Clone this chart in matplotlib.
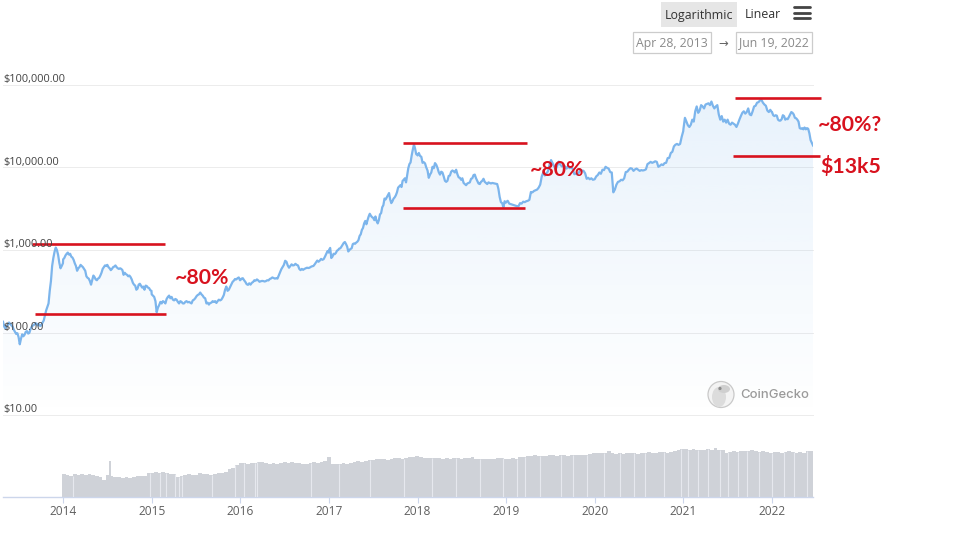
import numpy as np
import pandas as pd
import matplotlib
matplotlib.use("Agg")
import matplotlib.pyplot as plt
import matplotlib.dates as mdates
from matplotlib.patches import Rectangle, Polygon, Circle, Ellipse

# ---------- data ----------
prices_2013 = [135,118,112,120,122,132,128,122,118,108,102,96,98,88,72,84,95,90,94,102,104,97,99,110,118,122,124,130,128,122,126,120,122,132,140,160,185,205,225,320,420,640,800,950,1070,1000,870,700,600,640,690]
prices_2014 = [770,800,860,900,930,880,900,830,810,760,690,640,560,600,620,660,640,620,590,560,480,460,450,420,380,430,490,470,440,430,450,460,490,530,590,620,650,640,660,620,600,570,590,620,630,650,620,600,590,600,590,570,500,530,510,500,480,490,470,440,400,380,370,330,340,380,390,370,350,360,330,370,365,350,345,325,320]
prices_2015 = [290,280,270,240,176,200,215,235,225,240,235,225,255,270,280,260,270,250,245,255,250,235,225,240,235,225,225,235,240,232,235,230,225,245,250,260,275,285,290,305,290,280,265,260,225,230,218,228,230,240,235,240,228,240,250,245,250,265,285,330,361,320,330,355,380,410,425,445,440,455,465,430]
prices_2016 = [430,450,455,430,410,385,378,395,380,400,410,430,425,440,428,412,418,422,420,415,420,430,428,445,452,465,458,450,455,450,490,530,585,620,660,740,720,650,610,640,670,650,655,680,660,650,590,570,590,575,590,600,610,605,610,625,635,640,670,705,745,720,745,780,760,775,830,900,970,930]
prices_2017 = [1000,1060,800,830,900,890,920,980,1000,1040,1050,1100,1160,1220,1250,1180,1100,960,1000,1030,1050,1180,1200,1190,1230,1260,1320,1480,1550,1750,1850,2100,2250,2050,2300,2550,2750,2600,2500,2450,2300,2550,2250,2100,2300,2700,2800,3300,3500,4200,4100,4350,4600,4900,4100,3700,3900,4200,4350,4600,5000,5700,5900,6100,5800,6900,7100,7400,6600,8000,9800,11000,11500,14000,16500,19000,17000,14500,14200]
prices_2018 = [14000,15000,13800,13500,11400,11600,11200,10000,9200,7500,8200,8700,10200,9800,11300,10800,9900,8800,8200,8900,8700,7800,6900,6700,6900,7900,8000,8900,9200,9000,8700,9400,8300,7600,7500,7100,7400,6500,6300,6100,6400,6500,6600,7300,7400,8100,8200,7400,6900,6400,6300,6700,6900,7300,6700,6500,6300,6600,6500,6400,6500,6450,6400,6350,6300,5500,4400,3800,3700,3300,3900,3750]
prices_2019 = [3800,3950,3650,3600,3550,3500,3450,3400,3400,3700,3650,3850,3800,3900,3950,4050,5050,5000,5200,5300,5400,5700,6200,7800,8700,8000,8500,9000,10800,12300,11300,10300,9500,10500,11800,10800,10300,10500,10300,9700,10400,9800,10100,9600,8300,8400,8200,8700,9400,9200,9100,8500,7300,7500,7200,7400,7100,7200]
prices_2020 = [7200,7800,8100,8700,8400,9400,9300,10200,9900,9700,8800,8700,5000,5400,6200,6700,6800,7100,7000,7400,8800,8900,9400,9800,9700,9100,9500,9700,9400,9100,9300,9200,9300,9500,11000,11300,11700,11400,11600,11900,11700,10200,10500,10900,10700,11300,11400,13000,13100,15000,15500,18000,18900,19300,18800,19300,23500,27500]
prices_2021 = [29500,40000,36000,32500,31000,33000,38000,36000,48000,55000,46000,49000,57000,55000,52000,58000,59000,60000,57000,63000,56000,52000,55000,57000,44000,38000,42000,36000,38000,35000,38000,34000,33000,35000,34000,33000,31000,34000,38000,42000,46000,48000,45000,47000,52000,44000,43000,48000,55000,56000,61000,62000,65000,66000,61000,58000,56000,49000,47000,50000,47000]
prices_2022 = [47000,43000,42000,43000,42500,38000,37000,37000,38500,43000,42000,38000,39000,38500,41000,44000,47000,46000,44000,40000,39500,38000,36000,30000,29500,30000,29000,30500,29000,30000,29500,26000,21500,20000,18500]

year_spans = [("2013-04-28","2013-12-31",prices_2013),("2014-01-01","2014-12-31",prices_2014),
              ("2015-01-01","2015-12-31",prices_2015),("2016-01-01","2016-12-31",prices_2016),
              ("2017-01-01","2017-12-31",prices_2017),("2018-01-01","2018-12-31",prices_2018),
              ("2019-01-01","2019-12-31",prices_2019),("2020-01-01","2020-12-31",prices_2020),
              ("2021-01-01","2021-12-31",prices_2021),("2022-01-01","2022-06-19",prices_2022)]

# relative traded volume, twice a month, from Jan 2014
volume_2014 = [23,22,21,23,22,23.5,22,23,22,21,20,17,22,21,20,20,19,20.5,19,20,21,21.5,21,24]
volume_2015 = [24,25,24,25.5,24,23,23.5,20,21,22,23,22,22.5,24,23,23.5,22,23,24,24.5,25,28,29,32]
volume_2016 = [34,34.5,33,34,34.5,35,35.5,34,33,34.5,33,34,35,34,35.5,34,34.5,33,33.5,34,35,34,35.5,36]
volume_2017 = [40,33,33.5,33,34,33,34.5,35,36,35,36,37,37.5,38,38.5,38,37,38.5,39,39.5,38,39,40,40.5]
volume_2018 = [41,40,39,39.5,39,39.5,39,38,39,38,39.5,39,38,39,39.5,40,38,38.5,38,38.5,38,38,39,39.5]
volume_2019 = [38,38.5,39,38,40,40.5,41,41.5,42,41,41.5,41,42,42.5,41,42,42.5,41,42,42.5,42,42.5,42,43]
volume_2020 = [44,44.5,44,44,46,44,43,44,43.5,44,44.5,44,43,44,44.5,45,44,44.5,45,45.5,44,45,46,47]
volume_2021 = [48,48.5,47,48,47,47.5,47,48,47,49,47,47.5,44,45,46,45.5,46,46.5,46,47,46,45,46,45.5]
volume_2022 = [44,45,45.5,44,45,46,45,44,45.5,44,46,46]
volume_spike = ("2014-07-14", 36)
volume_gaps = ["2014-02-10","2014-12-25","2015-02-03","2015-02-28","2015-04-08","2015-04-22","2015-05-05",
               "2015-09-08","2015-12-12","2016-01-15","2016-03-01","2016-03-12","2016-10-20","2017-02-10",
               "2017-06-20","2017-11-05","2018-03-02","2018-06-10","2018-09-15","2018-12-20","2019-02-15",
               "2019-03-20","2019-05-20","2019-08-15","2019-10-02","2019-12-01","2020-02-10","2020-04-15",
               "2020-06-10","2020-07-25","2020-10-12","2020-12-20","2021-01-20","2021-02-28","2021-04-12",
               "2021-06-01","2021-07-05","2021-08-15","2021-09-20","2021-11-10","2022-01-02","2022-02-20",
               "2022-04-01","2022-05-25"]

grid_prices = [100000, 10000, 1000, 100, 10]
grid_labels = ["$100,000.00", "$10,000.00", "$1,000.00", "$100.00", "$10.00"]
year_ticks = list(range(2014, 2023))

marker_lines = [("2013-08-27","2015-02-26",1166),("2013-09-05","2015-03-01",168),
                ("2017-11-02","2019-03-27",19800),("2017-11-02","2019-03-19",3270),
                ("2021-07-31","2022-07-24",69500),("2021-07-23","2022-07-17",13900)]
notes = [("~80%",175,278),("~80%",530,170),("~80%?",818,125),("$13k5",820,167)]

# ---------- styles ----------
FONT = "Open Sans"
W, H = 960, 540
LEFT, RIGHT = 3, 813
RED = "#d8121e"
LINE = "#7cb5ec"
GRID = "#ececec"
AXIS = "#ccd6eb"
TEXT = "#5f5f5f"
plt.rcParams["font.family"] = FONT

fig = plt.figure(figsize=(W/100, H/100), dpi=100, facecolor="white")

def pix_axes(x0, x1, ytop, ybot, **kw):
    return fig.add_axes([x0/W, 1-ybot/H, (x1-x0)/W, (ybot-ytop)/H], **kw)

# ---------- price panel ----------
dates = []
prices = []
for start, end, vals in year_spans:
    dates.extend(pd.date_range(start, end, periods=len(vals)))
    prices.extend(vals)
xs = mdates.date2num(dates)
prices = np.array(prices, dtype=float)
xlim = mdates.date2num([pd.Timestamp("2013-04-28"), pd.Timestamp("2022-06-19")])

ax = pix_axes(LEFT, RIGHT, 85, 415)
ax.set_yscale("log")
ax.set_xlim(*xlim)
ax.set_ylim(10, 100000)
ax.axis("off")

for p, lab in zip(grid_prices, grid_labels):
    ax.plot(xlim, [p, p], color=GRID, lw=0.7, zorder=1, clip_on=False)
    ax.annotate(lab, (0, p), xycoords=ax.get_yaxis_transform(), xytext=(0, -0.3),
                textcoords="offset points", ha="left", va="bottom",
                color="#444444", fontsize=7.9, zorder=6, annotation_clip=False)

grad = np.zeros((256, 1, 4))
grad[..., 0] = 124/255; grad[..., 1] = 181/255; grad[..., 2] = 236/255
grad[:, 0, 3] = np.linspace(0.18, 0, 256)
im = ax.imshow(grad, extent=(0, 1, 0, 1), transform=ax.transAxes, aspect="auto", zorder=2)
poly = Polygon(np.column_stack([np.r_[xs, xs[-1], xs[0]], np.r_[prices, 10, 10]]),
               closed=True, transform=ax.transData, fc="none", ec="none")
ax.add_patch(poly)
im.set_clip_path(poly)
ax.set_xlim(*xlim)
ax.set_ylim(10, 100000)

ax.plot(xs, prices, color=LINE, lw=1.6, zorder=3, solid_joinstyle="round")

for start, end, p in marker_lines:
    ax.plot(mdates.date2num([pd.Timestamp(start), pd.Timestamp(end)]), [p, p],
            color=RED, lw=1.9, zorder=5, clip_on=False, solid_capstyle="butt")

# ---------- volume panel ----------
vax = pix_axes(LEFT, RIGHT, 430, 497)
vax.set_xlim(*xlim)
vax.set_ylim(0, 67)
vol = volume_2014 + volume_2015 + volume_2016 + volume_2017 + volume_2018 + volume_2019 + volume_2020 + volume_2021 + volume_2022
vol_dates = pd.date_range("2013-12-27", "2022-06-19", periods=len(vol)+1)
vx = mdates.date2num(vol_dates)
vax.bar(vx[:-1], vol, width=np.diff(vx), align="edge", color="#cfd2d8", lw=0, zorder=2)
vax.bar(mdates.date2num(pd.Timestamp(volume_spike[0])), volume_spike[1], width=6, color="#cfd2d8", lw=0, zorder=2)
gap_x = mdates.date2num(pd.to_datetime(volume_gaps))
gap_top = np.array(vol)[np.clip(np.searchsorted(vx, gap_x) - 1, 0, len(vol) - 1)]
vax.vlines(gap_x, 0, gap_top, color="#e6e8ee", lw=0.8, zorder=3)
for s in ("top", "left", "right"):
    vax.spines[s].set_visible(False)
vax.spines["bottom"].set_color(AXIS)
vax.spines["bottom"].set_linewidth(1.0)
vax.patch.set_alpha(0)
vax.set_yticks([])
vax.set_xticks(mdates.date2num([pd.Timestamp(f"{y}-01-01") for y in year_ticks]))
vax.set_xticklabels([str(y) for y in year_ticks], color=TEXT, fontsize=8.6)
vax.tick_params(axis="x", color=AXIS, length=4, width=0.8, pad=1.8)

# ---------- page furniture and notes ----------
ov = fig.add_axes([0, 0, 1, 1], zorder=10)
ov.set_xlim(0, W); ov.set_ylim(H, 0); ov.axis("off"); ov.patch.set_alpha(0)

ov.add_patch(Rectangle((661, 2), 76, 25, fc="#e6e6e6", ec="none"))
ov.text(699, 15, "Logarithmic", ha="center", va="center", fontsize=8.9, color="#333333")
ov.text(763, 15, "Linear", ha="center", va="center", fontsize=8.9, color="#333333")
for y in (7, 12.5, 18):
    ov.plot([794, 810], [y, y], color="#444444", lw=2.0, solid_capstyle="round")
for x0, x1, t in ((632.5, 710.5, "Apr 28, 2013"), (735.5, 811.5, "Jun 19, 2022")):
    ov.add_patch(Rectangle((x0, 31.5), x1-x0, 21, fc="none", ec="#cccccc", lw=0.9))
    ov.text((x0+x1)/2, 43, t, ha="center", va="center", fontsize=8.8, color="#8a8a8a")
ov.text(723, 43, "→", ha="center", va="center", fontsize=8.4, color="#666666", family=["DejaVu Sans"])

for label, x, y in notes:
    ov.text(x, y, label, ha="left", va="center", fontsize=15.3, color=RED,
            family="Lato", weight="bold")

ov.add_patch(Circle((721, 394.5), 13, fc="#f3f3f3", ec="#c9c9c9", lw=0.9))
ov.add_patch(Ellipse((719, 397), 14, 20, fc="#dcdcdc", ec="none"))
ov.add_patch(Ellipse((724, 389), 12, 8, fc="#cfcfcf", ec="none"))
ov.add_patch(Circle((720, 388.5), 1.6, fc="#8c8c8c", ec="none"))
ov.text(740, 394.5, "CoinGecko", ha="left", va="center", fontsize=9.4, color="#9a9a9a",
        family="Inter", weight="medium")

fig.savefig("out.png", dpi=100)
